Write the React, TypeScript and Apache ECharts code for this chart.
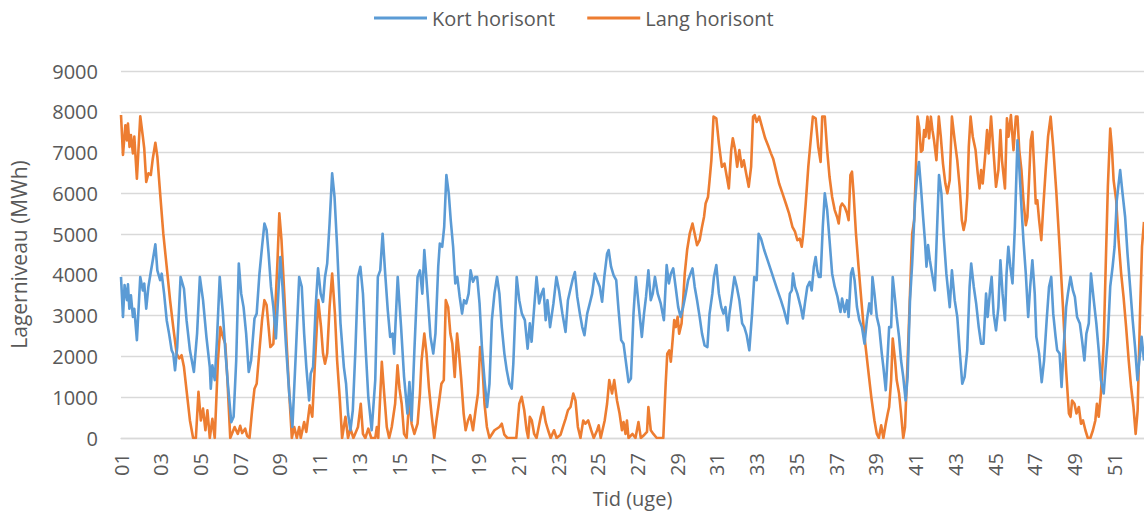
import React, { useEffect, useRef } from "react";
import * as echarts from "echarts";

// Time in weeks since the start of week 01, and storage level (MWh)
const kortData: [number, number][] = [
  [0,3950],[0.1,2970],[0.18,3750],[0.3,3380],[0.35,3770],[0.42,3170],[0.5,3500],[0.6,2970],[0.67,3170],[0.8,2400],[0.97,3950],[1.1,3620],[1.17,3790],[1.27,3170],[1.38,3710],[1.5,4070],[1.6,4360],[1.73,4750],[1.83,4110],[1.97,3870],[2.05,4030],[2.17,3540],[2.3,2890],[2.42,2560],[2.55,2150],[2.63,2070],[2.72,1660],[2.83,2230],[3.0,3950],[3.17,3660],[3.3,2890],[3.47,2150],[3.67,1620],[3.83,2560],[3.97,3950],[4.13,3380],[4.3,2480],[4.47,1740],[4.52,1210],[4.6,1780],[4.72,1420],[4.83,2400],[4.97,3950],[5.13,3050],[5.25,2150],[5.38,1330],[5.55,390],[5.67,520],[5.8,1900],
  [5.93,4280],[6.05,3540],[6.17,3210],[6.3,2560],[6.43,1620],[6.55,1900],[6.72,2930],[6.83,3050],[6.97,4030],[7.1,4690],[7.22,5260],[7.33,5100],[7.43,4520],[7.55,3710],[7.67,3210],[7.8,2440],[7.92,3540],[8.02,4440],[8.13,3710],[8.3,2310],[8.47,1090],[8.63,270],[8.8,2070],[8.97,3950],[9.1,3710],[9.22,2560],[9.33,1740],[9.47,920],[9.55,1580],[9.67,1740],[9.8,3210],[9.92,4160],[10.05,3540],[10.17,3340],[10.27,3950],[10.38,4280],[10.5,5260],[10.63,6490],[10.75,5910],[10.88,4690],[11.05,2810],[11.22,1740],[11.33,1330],[11.43,600],[11.55,190],[11.67,680],[11.8,2150],[11.93,3950],[12.05,4200],[12.18,3540],[12.33,2070],
  [12.45,1000],[12.62,190],[12.8,1420],[12.93,3950],[13.05,4110],[13.17,5010],[13.3,4030],[13.43,3130],[13.55,2480],[13.67,2560],[13.75,2070],[13.93,3950],[14.1,2720],[14.25,1500],[14.42,600],[14.52,1370],[14.63,430],[14.77,2150],[14.93,3950],[15.05,4110],[15.17,3540],[15.27,4610],[15.43,3540],[15.58,2480],[15.72,2070],[15.83,2560],[15.97,4200],[16.05,4770],[16.17,4690],[16.27,5180],[16.38,6450],[16.5,6000],[16.6,5340],[16.72,4690],[16.83,3790],[16.93,3950],[17.05,3460],[17.17,3050],[17.27,3380],[17.38,3300],[17.5,3540],[17.6,4110],[17.72,3830],[17.83,3950],[17.93,3950],[18.05,3300],[18.17,2230],[18.3,1420],[18.43,760],[18.55,1330],[18.67,2890],[18.8,3540],
  [18.93,3950],[19.05,3540],[19.17,2720],[19.3,2070],[19.42,1660],[19.55,1330],[19.67,1210],[19.75,1820],[19.92,3950],[20.05,3380],[20.18,3050],[20.33,2890],[20.47,2190],[20.58,2810],[20.67,2360],[20.77,3010],[20.92,3950],[21.05,3300],[21.17,3540],[21.27,3660],[21.38,2890],[21.47,3380],[21.6,2720],[21.77,3300],[21.92,3950],[22.05,3620],[22.22,3050],[22.38,2600],[22.5,3380],[22.63,3660],[22.75,3910],[22.85,4070],[22.97,3460],[23.1,3050],[23.22,2720],[23.33,2520],[23.47,3050],[23.6,3300],[23.72,3540],[23.85,4030],[23.97,3870],[24.1,3710],[24.22,3340],[24.33,3950],[24.47,4520],[24.55,4610],[24.67,4200],[24.8,3990],[24.93,3870],[25.05,3130],[25.18,2400],
  [25.3,2310],[25.43,1820],[25.55,1370],[25.67,1460],[25.8,3050],[25.92,3950],[26.05,3300],[26.22,2480],[26.33,3050],[26.43,3460],[26.55,4110],[26.67,3380],[26.77,3540],[26.88,3950],[27.02,3540],[27.17,3300],[27.33,2890],[27.47,4240],[27.58,3790],[27.68,4030],[27.8,4160],[27.92,3710],[28.05,3210],[28.17,2970],[28.3,3210],[28.43,3540],[28.55,3870],[28.67,4030],[28.77,4160],[28.88,3710],[29.0,3380],[29.13,2970],[29.25,2560],[29.38,2270],[29.52,2230],[29.63,3050],[29.77,3540],[29.85,3950],[29.97,4240],[30.1,3540],[30.22,3210],[30.33,3050],[30.43,3210],[30.55,2640],[30.63,3050],[30.77,3540],[30.88,3950],[31.0,3710],[31.13,3380],[31.27,2810],[31.38,2720],[31.5,2520],[31.63,2150],[31.77,3050],
  [31.88,3950],[32.0,3870],[32.1,5010],[32.22,4890],[32.38,4610],[32.55,4360],[32.72,4110],[32.88,3870],[33.05,3620],[33.22,3380],[33.38,3130],[33.55,2810],[33.67,3540],[33.77,3620],[33.83,4030],[33.93,3710],[34.05,3540],[34.22,3210],[34.33,2930],[34.43,3300],[34.55,3710],[34.67,3830],[34.77,3620],[34.88,4200],[34.97,4440],[35.05,4110],[35.13,3950],[35.22,3950],[35.33,5180],[35.43,6000],[35.55,5590],[35.67,4850],[35.8,4030],[35.93,3710],[36.07,3460],[36.22,3090],[36.3,3420],[36.43,3090],[36.55,3380],[36.63,2970],[36.75,4030],[36.83,4160],[36.93,3870],[37.05,3210],[37.17,2890],[37.3,2720],[37.43,2310],[37.55,2890],[37.67,3300],[37.77,3050],[37.83,3950],[37.93,3540],[38.05,2970],[38.17,2720],
  [38.3,2070],[38.38,1740],[38.5,1170],[38.6,2070],[38.67,2720],[38.77,2720],[38.85,3950],[38.97,3380],[39.05,2970],[39.17,2480],[39.27,1900],[39.38,1500],[39.5,920],[39.6,1500],[39.72,3380],[39.83,4280],[39.97,5750],[40.07,6400],[40.17,6770],[40.27,6160],[40.38,5420],[40.47,4850],[40.55,4200],[40.63,4730],[40.72,4360],[40.83,4030],[40.97,3620],[41.05,4690],[41.18,6450],[41.3,6000],[41.42,4930],[41.55,4030],[41.72,3210],[41.83,4110],[41.97,3380],[42.1,2970],[42.22,2150],[42.35,1330],[42.47,1500],[42.6,2150],[42.72,3710],[42.8,4280],[42.93,3710],[43.05,3300],[43.18,2720],[43.3,2310],[43.42,2310],[43.55,3540],[43.63,2970],[43.75,3620],[43.83,3950],[43.93,3050],[44.05,2640],[44.17,3210],[44.27,4360],[44.38,3540],[44.5,2890],[44.58,4030],[44.67,4690],[44.77,4200],
  [44.88,3790],[45.0,5200],[45.13,7300],[45.22,6650],[45.33,5670],[45.43,4850],[45.55,4030],[45.67,2970],[45.77,3710],[45.88,4360],[46.0,3540],[46.08,2480],[46.22,2070],[46.35,1370],[46.47,1900],[46.6,2890],[46.72,3710],[46.83,3950],[46.93,3050],[47.05,2480],[47.13,2150],[47.25,2070],[47.35,1250],[47.47,2310],[47.58,3210],[47.67,3540],[47.8,3950],[47.92,3620],[48.02,3460],[48.13,2970],[48.27,2810],[48.38,2400],[48.5,1900],[48.6,2560],[48.72,2810],[48.83,4030],[48.97,3380],[49.1,2810],[49.22,2150],[49.33,1420],[49.47,1090],[49.58,1820],[49.68,2480],[49.8,3710],[49.92,4200],[50.02,4690],[50.13,5830],[50.3,6570],[50.42,6000],[50.55,5420],[50.67,4520],[50.8,3710],[50.93,2890],[51.05,2230],[51.17,1420],[51.3,2070],[51.38,2480],[51.5,1900],
];

const langData: [number, number][] = [
  [0,7920],[0.1,6940],[0.22,7670],[0.3,7300],[0.35,7710],[0.43,7140],[0.5,7430],[0.6,6980],[0.67,7390],[0.8,6360],[0.97,7890],[1.1,7390],[1.17,7100],[1.27,6280],[1.38,6490],[1.5,6450],[1.6,6850],[1.73,7240],[1.83,6900],[1.97,6000],[2.13,5010],[2.3,4200],[2.47,3380],[2.63,2720],[2.8,2070],[2.93,1950],[3.05,2030],[3.17,1740],[3.3,1170],[3.47,430],[3.63,0],[3.77,0],[3.9,1130],[4.02,430],[4.13,720],[4.25,190],[4.35,680],[4.47,0],[4.6,470],[4.72,0],[4.88,1900],[5.0,2720],[5.13,2480],[5.25,2310],[5.35,1500],[5.5,0],[5.72,270],[5.88,100],
  [6.0,300],[6.1,120],[6.25,230],[6.35,50],[6.47,0],[6.6,680],[6.72,1210],[6.83,1330],[6.97,2150],[7.1,2890],[7.22,3380],[7.33,3260],[7.43,2720],[7.52,2230],[7.67,2310],[7.77,3210],[7.88,4360],[7.97,5510],[8.08,4850],[8.22,3540],[8.33,2400],[8.47,1090],[8.6,0],[8.72,270],[8.85,0],[8.97,270],[9.05,0],[9.22,390],[9.33,150],[9.5,800],[9.63,520],[9.77,1900],[9.93,3380],[10.07,2720],[10.17,2070],[10.27,1820],[10.38,2070],[10.5,3210],[10.63,4030],[10.77,3050],[10.88,1900],[11.02,920],[11.13,0],[11.3,520],[11.43,0],[11.55,230],[11.7,0],[11.93,270],[12.07,840],[12.18,100],[12.3,0],
  [12.45,230],[12.6,0],[12.8,0],[12.88,270],[12.95,0],[13.13,1870],[13.25,1090],[13.38,270],[13.5,0],[13.63,270],[13.8,840],[13.92,1780],[14.02,1210],[14.13,840],[14.25,100],[14.38,0],[14.52,1010],[14.63,350],[14.77,100],[14.93,350],[15.05,1090],[15.13,1900],[15.27,2560],[15.38,2070],[15.5,1250],[15.63,600],[15.77,0],[15.88,430],[16.0,840],[16.13,1330],[16.25,1420],[16.35,3380],[16.47,3210],[16.58,2560],[16.68,2310],[16.8,1500],[16.92,2560],[17.02,2070],[17.13,1420],[17.25,600],[17.35,190],[17.47,430],[17.58,560],[17.72,190],[17.85,680],[17.97,1090],[18.08,2230],[18.18,1900],[18.3,840],[18.42,270],[18.55,0],[18.8,190],
  [19.05,270],[19.17,350],[19.3,80],[19.45,0],[19.9,0],[20.05,840],[20.17,1010],[20.3,680],[20.42,190],[20.5,0],[20.58,520],[20.68,430],[20.8,100],[20.92,0],[21.13,520],[21.25,760],[21.38,390],[21.5,190],[21.63,0],[21.8,190],[21.93,0],[22.13,80],[22.25,270],[22.38,470],[22.5,680],[22.63,760],[22.77,1090],[22.88,920],[23.0,270],[23.13,0],[23.27,430],[23.38,350],[23.52,430],[23.67,190],[23.8,0],[23.97,190],[24.05,310],[24.15,0],[24.35,430],[24.47,840],[24.58,1420],[24.72,1090],[24.83,1420],[24.97,920],[25.1,600],[25.22,190],
  [25.3,390],[25.4,100],[25.47,430],[25.55,0],[25.75,100],[25.9,0],[26.05,390],[26.17,0],[26.35,80],[26.48,150],[26.55,760],[26.67,190],[26.8,100],[26.97,0],[27.3,0],[27.42,1330],[27.5,2070],[27.6,2150],[27.68,1870],[27.77,2400],[27.85,2890],[27.93,2720],[28.02,2970],[28.1,2560],[28.22,2810],[28.3,3380],[28.38,4030],[28.5,4610],[28.63,5010],[28.77,5260],[28.88,5010],[29.0,4730],[29.13,4850],[29.25,5180],[29.35,5420],[29.43,5750],[29.55,5910],[29.63,6320],[29.72,6810],[29.83,7880],[29.97,7840],[30.1,7220],[30.25,6650],[30.38,6730],[30.5,6400],[30.6,6120],[30.72,7060],[30.8,7350],[30.92,7060],[31.02,6650],[31.13,7060],[31.25,6650],[31.35,6810],[31.47,6490],[31.6,6160],[31.72,6650],
  [31.82,7880],[31.9,7920],[32.0,7750],[32.13,7880],[32.27,7630],[32.43,7350],[32.6,7140],[32.72,6980],[32.83,6850],[32.97,6570],[33.13,6240],[33.3,6000],[33.47,5750],[33.63,5510],[33.8,5180],[33.93,5060],[34.05,4850],[34.17,4890],[34.27,4690],[34.35,5010],[34.47,5750],[34.6,6650],[34.72,7300],[34.83,7880],[34.97,7840],[35.1,7140],[35.22,6770],[35.3,7880],[35.43,7880],[35.55,7060],[35.67,6400],[35.8,5910],[35.93,5590],[36.05,5420],[36.13,5260],[36.22,5670],[36.3,5750],[36.43,5670],[36.55,5510],[36.63,5340],[36.72,6450],[36.8,6530],[36.88,6000],[37.0,5010],[37.13,4200],[37.27,3380],[37.43,2480],[37.6,1740],[37.77,1010],[37.93,430],[38.05,100],[38.15,0],[38.27,310],[38.38,0],[38.5,350],
  [38.6,600],[38.67,760],[38.77,1420],[38.85,2440],[38.97,1900],[39.05,1420],[39.17,1090],[39.27,600],[39.38,0],[39.47,270],[39.6,1900],[39.72,3540],[39.83,5010],[39.93,5340],[40.02,6650],[40.1,7880],[40.18,7630],[40.27,7020],[40.35,7060],[40.43,7550],[40.5,7390],[40.6,7880],[40.68,7350],[40.77,7880],[40.85,7550],[40.93,7300],[41.05,6810],[41.17,7880],[41.27,7390],[41.38,6730],[41.5,6240],[41.6,6000],[41.72,6320],[41.83,7880],[41.97,7300],[42.1,6810],[42.22,6160],[42.33,5340],[42.42,5100],[42.52,5340],[42.6,5910],[42.68,7140],[42.77,7880],[42.88,7390],[43.02,7060],[43.13,6490],[43.22,6120],[43.3,6570],[43.38,6240],[43.5,6900],[43.6,7550],[43.68,6980],[43.8,7880],[43.93,6980],[44.05,6160],[44.17,6570],[44.27,7550],[44.35,6810],[44.5,6120],[44.6,7840],[44.68,7390],
  [44.8,7920],[44.93,7060],[45.05,7880],[45.13,7880],[45.22,7060],[45.33,6570],[45.43,5830],[45.55,5220],[45.63,5420],[45.72,6400],[45.8,7300],[45.88,7510],[45.97,6650],[46.05,5750],[46.13,5830],[46.22,5340],[46.33,4850],[46.43,5670],[46.55,6570],[46.67,7390],[46.8,7880],[46.93,7140],[47.08,6080],[47.25,4690],[47.42,3210],[47.58,1660],[47.72,600],[47.8,520],[47.88,920],[48.0,840],[48.1,600],[48.22,760],[48.33,350],[48.43,430],[48.55,190],[48.67,0],[48.8,0],[48.93,190],[49.05,430],[49.13,840],[49.22,520],[49.33,1090],[49.47,2310],[49.58,4360],[49.68,6160],[49.8,7590],[49.88,7140],[49.97,6320],[50.1,5830],[50.22,4850],[50.35,4030],[50.47,3460],[50.6,2720],[50.73,1900],[50.85,1250],[50.97,760],[51.08,100],[51.18,680],[51.3,3050],[51.4,4690],[51.5,5300],
];

const seriesNames = ["Kort horisont", "Lang horisont"];
const seriesColors = ["#5B9BD5", "#ED7D31"];
const yAxisTitle = "Lagerniveau (MWh)";
const xAxisTitle = "Tid (uge)";

const FONT = "'Open Sans', sans-serif";
const TEXT = "#595959";

export default function App() {
  const ref = useRef<HTMLDivElement>(null);
  useEffect(() => {
    if (!ref.current) return;
    const chart = echarts.init(ref.current, null, { renderer: "svg" });
    chart.setOption({
      animation: false,
      backgroundColor: "#ffffff",
      textStyle: { fontFamily: FONT },
      legend: {
        top: 8,
        left: 374,
        padding: 0,
        icon: "rect",
        itemWidth: 53,
        itemHeight: 3,
        itemGap: 32,
        textStyle: { fontFamily: FONT, fontSize: 20, color: TEXT },
        data: seriesNames,
      },
      grid: { left: 114, right: 0, top: 71, bottom: 78, containLabel: false },
      xAxis: {
        type: "value",
        min: 0,
        max: 51.5,
        interval: 2,
        name: xAxisTitle,
        nameLocation: "middle",
        nameGap: 50,
        nameTextStyle: { fontFamily: FONT, fontSize: 20, color: TEXT },
        axisLine: { show: true, lineStyle: { color: "#d9d9d9", width: 1.3 } },
        axisTick: { show: false },
        splitLine: { show: false },
        axisLabel: {
          rotate: 90,
          margin: 15,
          showMaxLabel: false,
          fontFamily: FONT,
          fontSize: 20,
          color: TEXT,
          formatter: (v: number) => (Number.isInteger(v) ? String(v + 1).padStart(2, "0") : ""),
        },
      },
      yAxis: {
        type: "value",
        min: 0,
        max: 9000,
        interval: 1000,
        name: yAxisTitle,
        nameLocation: "middle",
        nameGap: 92,
        nameRotate: 90,
        nameTextStyle: { fontFamily: FONT, fontSize: 21, color: TEXT },
        axisLine: { show: false },
        axisTick: { show: false },
        splitLine: { lineStyle: { color: "#d9d9d9", width: 1.3 } },
        axisLabel: {
          margin: 23,
          fontFamily: FONT,
          fontSize: 20,
          color: TEXT,
          formatter: (v: number) => String(v),
        },
      },
      series: [
        {
          name: seriesNames[0],
          type: "line",
          data: kortData,
          symbol: "none",
          color: seriesColors[0],
          lineStyle: { width: 2.6, color: seriesColors[0], join: "round" },
          z: 3,
        },
        {
          name: seriesNames[1],
          type: "line",
          data: langData,
          symbol: "none",
          color: seriesColors[1],
          lineStyle: { width: 2.6, color: seriesColors[1], join: "round" },
          z: 2,
        },
      ],
    });
    return () => chart.dispose();
  }, []);
  return (
    <div
      ref={ref}
      style={{ position: "absolute", left: 0, top: 0, width: 1144, height: 516 }}
    />
  );
}
